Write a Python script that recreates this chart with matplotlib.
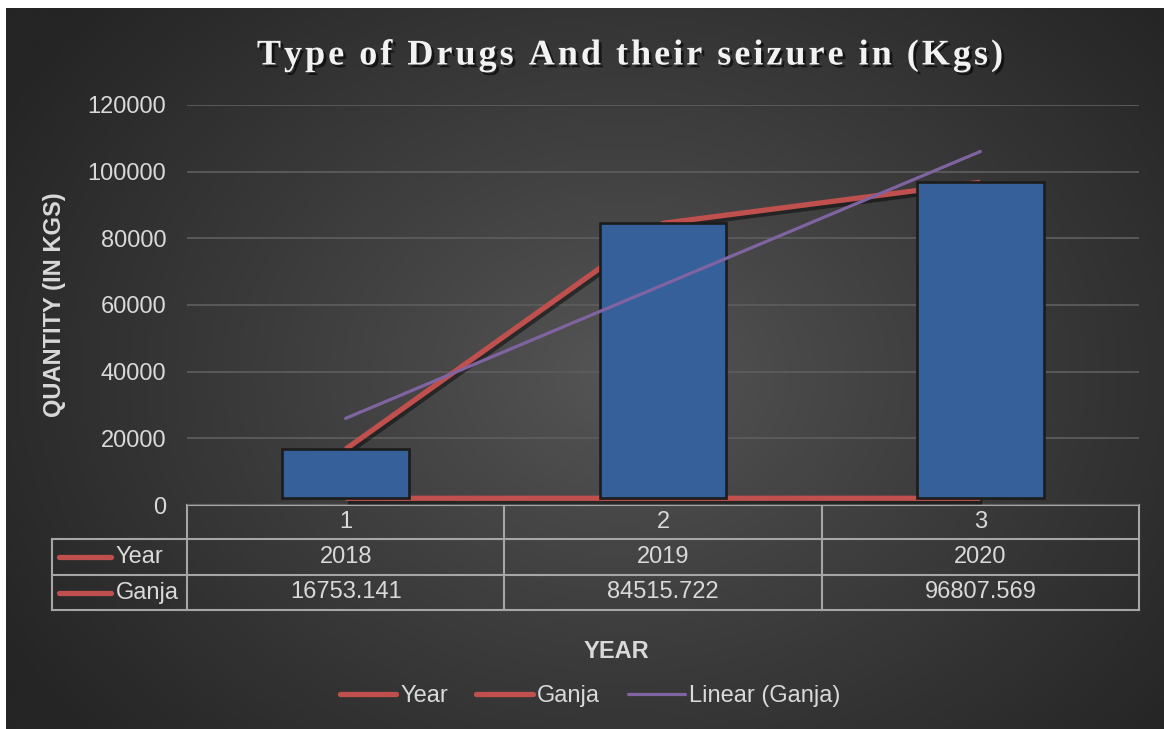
import numpy as np
import matplotlib
matplotlib.use("Agg")
import matplotlib.pyplot as plt
from matplotlib.lines import Line2D
from matplotlib import patheffects as pe
from matplotlib.transforms import blended_transform_factory
from matplotlib import font_manager
from matplotlib.ft2font import FT2Font

# ---------------- data ----------------
categories = ["1", "2", "3"]
years = [2018, 2019, 2020]
ganja = [16753.141, 84515.722, 96807.569]
ganja_labels = ["16753.141", "84515.722", "96807.569"]
yticks = [0, 20000, 40000, 60000, 80000, 100000, 120000]
series_names = ["Year", "Ganja", "Linear (Ganja)"]
title = "Type of Drugs And their seizure in (Kgs)"

W, H = 1164, 729
RED = "#C0504D"
PURPLE = "#8064A2"
BLUE = "#35609A"
TXT = "#D9D9D9"
GRIDC = "#5C5C5C"
TABLEC = "#A6A6A6"
FONT = "Liberation Sans"
FS = 17

fig = plt.figure(figsize=(W / 100, H / 100), dpi=100)
fig.patch.set_facecolor("white")

# background (pixel coordinates)
bg = fig.add_axes([0, 0, 1, 1])
bg.set_xlim(0, W)
bg.set_ylim(H, 0)
bg.axis("off")
yy, xx = np.mgrid[0:H, 0:W].astype(float)
d = np.sqrt(((xx - 620) / 720) ** 2 + ((yy - 370) / 560) ** 2)
d = np.clip(d, 0, 1)
c_in, c_out = 0x56 / 255, 0x25 / 255
g = c_in + (c_out - c_in) * d ** 0.9
img = np.dstack([g, g, g])
bg.imshow(img, extent=[6, W, H, 8], aspect="auto", zorder=0, interpolation="bilinear")

# ---------------- main axes ----------------
ax = fig.add_axes([187 / W, (H - 505) / H, (1139 - 187) / W, 400 / H])
ax.patch.set_alpha(0)
x = np.arange(1, len(categories) + 1)
ax.set_xlim(0.5, len(categories) + 0.5)
ax.set_ylim(0, 120000)
ax.set_yticks(yticks)
ax.set_yticklabels([str(v) for v in yticks], fontsize=FS, color=TXT, family=FONT)
ax.tick_params(axis="y", length=0, pad=15)
ax.set_xticks([])
for s in ax.spines.values():
    s.set_visible(False)
ax.grid(axis="y", color=GRIDC, lw=1.3, zorder=0)
ax.set_axisbelow(True)

shadow = [pe.SimpleLineShadow(offset=(1.5, -2.5), shadow_color="black", alpha=0.45), pe.Normal()]
ax.plot(x, years, color=RED, lw=3.8, solid_capstyle="butt", zorder=2, path_effects=shadow)
ax.plot(x, ganja, color=RED, lw=3.8, solid_capstyle="butt", zorder=2, path_effects=shadow)
heights = [gv - yv for gv, yv in zip(ganja, years)]
ax.bar(x, heights, bottom=years, width=0.4, color=BLUE, edgecolor="#1C1C1C", lw=1.9, zorder=3)
coef = np.polyfit(x, ganja, 1)
ax.plot(x, np.polyval(coef, x), color=PURPLE, lw=2.3, solid_capstyle="round", zorder=4)

# ---------------- data table ----------------
tr = blended_transform_factory(ax.transData, bg.transData)
rows_y = [505, 539, 575, 610]
x_edges = np.arange(0.5, len(categories) + 1.0, 1.0)
lk = dict(color=TABLEC, lw=1.5, zorder=5, solid_capstyle="projecting")
bg.plot([x_edges[0], x_edges[-1]], [rows_y[0], rows_y[0]], transform=tr, **lk)
for xe in x_edges:
    bg.plot([xe, xe], [rows_y[0], rows_y[-1]], transform=tr, **lk)
for ry in rows_y[1:]:
    bg.plot([52, 187], [ry, ry], **lk)
    bg.plot([x_edges[0], x_edges[-1]], [ry, ry], transform=tr, **lk)
bg.plot([52, 52], [rows_y[1], rows_y[-1]], **lk)

for xi, cat, yr, gl in zip(x, categories, years, ganja_labels):
    bg.text(xi, (rows_y[0] + rows_y[1]) / 2, cat, transform=tr, ha="center", va="center",
            fontsize=FS, color=TXT, family=FONT)
    bg.text(xi, (rows_y[1] + rows_y[2]) / 2, str(yr), transform=tr, ha="center", va="center",
            fontsize=FS, color=TXT, family=FONT)
    bg.text(xi, (rows_y[2] + rows_y[3]) / 2, gl, transform=tr, ha="center", va="center",
            fontsize=FS, color=TXT, family=FONT)
for (r0, r1), name in zip([(rows_y[1], rows_y[2]), (rows_y[2], rows_y[3])], series_names[:2]):
    yc = (r0 + r1) / 2
    bg.plot([59, 111], [yc, yc], color=RED, lw=3.8, solid_capstyle="round", zorder=5)
    bg.text(116, yc, name, ha="left", va="center", fontsize=FS, color=TXT, family=FONT)

# ---------------- axis titles ----------------
bg.text(55, 305, "QUANTITY (IN KGS)", rotation=90, ha="center", va="center",
        fontsize=FS, fontweight="bold", color=TXT, family=FONT)
bg.text(616, 651, "YEAR", ha="center", va="center", fontsize=FS, fontweight="bold",
        color=TXT, family=FONT)

# ---------------- title with letter spacing ----------------
TS = 26
tprop = font_manager.FontProperties(family="Liberation Serif", weight="bold", size=TS)
ft = FT2Font(font_manager.findfont(tprop))
ft.set_size(TS, 100)
spacing = 3.0
adv = []
for ch in title:
    glyph = ft.load_char(ord(ch))
    adv.append(glyph.linearHoriAdvance / 65536.0)
total = sum(adv) + spacing * (len(title) - 1)
xc, yc = 630, 52
xpos = xc - total / 2
teff = [pe.withSimplePatchShadow(offset=(2, -2), shadow_rgbFace="black", alpha=0.6)]
for ch, a in zip(title, adv):
    if ch != " ":
        bg.text(xpos, yc, ch, ha="left", va="center_baseline", fontproperties=tprop,
                color="#F2F2F2", path_effects=teff)
    xpos += a + spacing

# ---------------- legend ----------------
handles = [Line2D([], [], color=RED, lw=3.8, solid_capstyle="round"),
           Line2D([], [], color=RED, lw=3.8, solid_capstyle="round"),
           Line2D([], [], color=PURPLE, lw=2.3, solid_capstyle="round")]
leg = fig.legend(handles, series_names, loc="center", bbox_to_anchor=(590 / W, 1 - 696 / H),
                 ncol=3, frameon=False, prop=font_manager.FontProperties(family=FONT, size=FS),
                 labelcolor=TXT, handlelength=2.4, handletextpad=0.17, columnspacing=1.2)

fig.savefig("out.png", dpi=100, facecolor=fig.get_facecolor())
